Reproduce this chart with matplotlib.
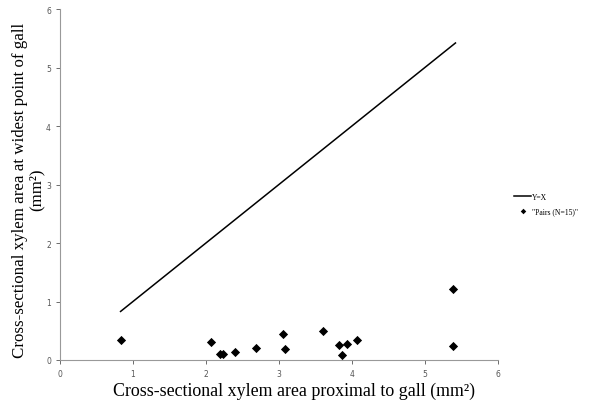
import matplotlib
matplotlib.use('Agg')
import matplotlib.pyplot as plt
import numpy as np

# data
line_x = [0.83, 5.42]
pair_x = [0.84, 2.07, 2.19, 2.24, 2.40, 2.69, 3.05, 3.08,
          3.60, 3.83, 3.87, 3.93, 4.07, 5.38, 5.38]
pair_y = [0.35, 0.30, 0.10, 0.10, 0.13, 0.21, 0.44, 0.19,
          0.50, 0.26, 0.09, 0.27, 0.34, 1.21, 0.24]
ticks = [0, 1, 2, 3, 4, 5, 6]

fig = plt.figure(figsize=(5.9, 4.02), dpi=100)
ax = fig.add_axes([0.1017, 0.102, 0.742, 0.873])

ax.plot(line_x, line_x, color='black', lw=1.1, label='Y=X')
ax.scatter(pair_x, pair_y, marker='D', s=22, color='black', lw=0,
           label='"Pairs (N=15)"', zorder=3)

ax.set_xlim(0, 6)
ax.set_ylim(0, 6)
ax.set_xticks(ticks)
ax.set_yticks(ticks)
ax.tick_params(labelsize=5.5, colors='#555555', length=3, width=0.6,
               direction='out')
for s in ['top', 'right']:
    ax.spines[s].set_visible(False)
for s in ['left', 'bottom']:
    ax.spines[s].set_color('#999999')
    ax.spines[s].set_linewidth(0.8)

serif = ['Liberation Serif', 'DejaVu Serif']
ax.set_xlabel('Cross-sectional xylem area proximal to gall (mm\u00b2)',
              family=serif, fontsize=12.9)
ax.set_ylabel('Cross-sectional xylem area at widest point of gall\n(mm\u00b2)',
              family=serif, fontsize=12.2, linespacing=1.0)
ax.xaxis.set_label_coords(0.535, -0.062)
ax.yaxis.set_label_coords(-0.036, 0.487)

fig.legend(loc='center left', bbox_to_anchor=(0.86, 0.49), frameon=False,
           prop={'family': serif, 'size': 5.5}, handlelength=2.2,
           handletextpad=0.1, labelspacing=0.9, markerscale=0.6)

fig.savefig('out.png', dpi=100)
